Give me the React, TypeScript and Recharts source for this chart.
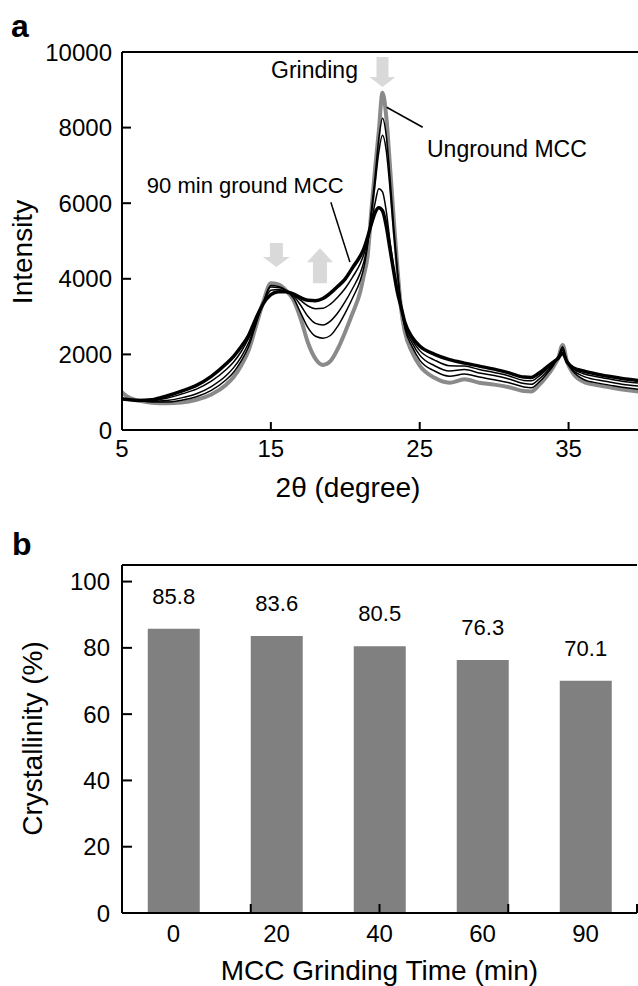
import React from 'react';
import {
  LineChart,
  Line,
  XAxis,
  YAxis,
  ReferenceLine,
  ReferenceDot,
  BarChart,
  Bar,
  LabelList,
  Label,
} from 'recharts';

const FONT = 'Liberation Sans, Arial, Helvetica, sans-serif';

// panel a: XRD patterns, 2theta in degrees
const twoTheta = [
  5, 5.5, 6, 7, 8, 9, 10, 11, 12,
  12.5, 13, 13.5, 14, 14.5, 15,
  15.5, 16, 16.5, 17, 17.5, 18,
  18.5, 19, 19.5, 20, 20.5, 21,
  21.25, 21.5, 21.75, 22, 22.25, 22.5,
  22.75, 23, 23.25, 23.5, 23.75, 24,
  24.5, 25, 26, 27, 28, 29,
  30, 31, 32, 32.5, 33, 33.5,
  34, 34.3, 34.6, 34.9, 35.3, 36,
  37, 38, 39, 40,
];

const unground = [
  1000, 850, 790, 720, 705, 725, 800, 940, 1200,
  1400, 1700, 2100, 2750, 3400, 3880,
  3850, 3700, 3450, 2950, 2300, 1880,
  1720, 1820, 2150, 2600, 3100, 3650,
  4100, 4600, 5800, 6900, 7900, 8920,
  8300, 7000, 5600, 4300, 3200, 2600,
  2050, 1700, 1380, 1250, 1340, 1250,
  1200, 1130, 1030, 1020, 1180, 1400,
  1680, 1900, 2250, 1800, 1500, 1280,
  1180, 1110, 1050, 1000,
];

const ground20 = [
  850, 810, 790, 740, 740, 790, 880, 1050, 1330,
  1530, 1820, 2200, 2800, 3380, 3820,
  3800, 3700, 3500, 3100, 2700, 2480,
  2430, 2500, 2750, 3100, 3500, 3950,
  4300, 4900, 5800, 6700, 7700, 8250,
  7800, 6700, 5400, 4250, 3300, 2700,
  2200, 1850, 1560, 1420, 1480, 1400,
  1330, 1250, 1140, 1120, 1260, 1470,
  1720, 1920, 2200, 1800, 1550, 1340,
  1240, 1170, 1110, 1060,
];

const ground40 = [
  840, 800, 785, 760, 780, 850, 960, 1150, 1440,
  1650, 1930, 2300, 2850, 3380, 3780,
  3770, 3700, 3560, 3300, 3000, 2820,
  2780, 2880, 3100, 3400, 3750, 4150,
  4450, 4950, 5700, 6500, 7350, 7800,
  7400, 6400, 5200, 4150, 3300, 2750,
  2300, 1980, 1700, 1560, 1600, 1510,
  1440, 1350, 1230, 1210, 1340, 1530,
  1760, 1930, 2150, 1800, 1580, 1420,
  1320, 1250, 1190, 1150,
];

const ground60 = [
  830, 800, 780, 780, 840, 950, 1080, 1290, 1600,
  1800, 2070, 2420, 2900, 3360, 3700,
  3720, 3680, 3580, 3430, 3280, 3210,
  3220, 3330, 3520, 3750, 4050, 4400,
  4650, 5000, 5500, 6000, 6380, 6300,
  5800, 5000, 4300, 3700, 3250, 2800,
  2380, 2100, 1850, 1700, 1690, 1600,
  1520, 1430, 1310, 1300, 1420, 1590,
  1780, 1920, 2100, 1800, 1620, 1490,
  1400, 1330, 1270, 1230,
];

const ground90 = [
  820, 800, 780, 800, 900, 1030, 1180, 1420, 1750,
  1950, 2200, 2500, 2950, 3350, 3580,
  3660, 3660, 3600, 3500, 3430, 3420,
  3480, 3620, 3800, 4000, 4300, 4600,
  4800, 5100, 5450, 5750, 5880, 5800,
  5400, 4800, 4200, 3650, 3250, 2850,
  2450, 2220, 2000, 1860, 1770, 1690,
  1610, 1510, 1400, 1390, 1500, 1650,
  1800, 1900, 2030, 1800, 1650, 1560,
  1470, 1400, 1340, 1300,
];

const thetaTicks = [5, 15, 25, 35];
const intensityTicks = [0, 2000, 4000, 6000, 8000, 10000];

// panel b: crystallinity
const grindTimes = ['0', '20', '40', '60', '90'];
const crystallinity = [85.8, 83.6, 80.5, 76.3, 70.1];
const crystTicks = [0, 20, 40, 60, 80, 100];
const categoryEdges = [1, 2, 3, 4];

const xrdData = twoTheta.map((t, i) => ({
  t,
  m0: unground[i],
  m20: ground20[i],
  m40: ground40[i],
  m60: ground60[i],
  m90: ground90[i],
}));

const barData = grindTimes.map((time, i) => ({ time, value: crystallinity[i] }));

const ARROW = '#d9d9d9';

const downArrow = (shaft: number, head: number, hw: number, sw: number) => (p: any) => {
  const { cx, cy } = p;
  const pts = [
    [cx - sw, cy - head - shaft],
    [cx + sw, cy - head - shaft],
    [cx + sw, cy - head],
    [cx + hw, cy - head],
    [cx, cy],
    [cx - hw, cy - head],
    [cx - sw, cy - head],
  ];
  return <polygon points={pts.map((q) => q.join(',')).join(' ')} fill={ARROW} />;
};

const upArrow = (shaft: number, head: number, hw: number, sw: number) => (p: any) => {
  const { cx, cy } = p;
  const pts = [
    [cx, cy],
    [cx + hw, cy + head],
    [cx + sw, cy + head],
    [cx + sw, cy + head + shaft],
    [cx - sw, cy + head + shaft],
    [cx - sw, cy + head],
    [cx - hw, cy + head],
  ];
  return <polygon points={pts.map((q) => q.join(',')).join(' ')} fill={ARROW} />;
};

const note = (text: string, anchor: 'start' | 'end', size = 23) => (p: any) => (
  <text x={p.cx} y={p.cy} textAnchor={anchor} fontSize={size} fill="#000" fontFamily={FONT}>
    {text}
  </text>
);

const title = (text: string, x: number, y: number, rotate = false) => () => (
  <text
    x={x}
    y={y}
    textAnchor="middle"
    fontSize={28}
    fill="#000"
    fontFamily={FONT}
    transform={rotate ? `rotate(-90 ${x} ${y})` : undefined}
  >
    {text}
  </text>
);

// ticks drawn by hand so that the tick marks point into the plot
const LeftTick = (gap: number, len: number) => (p: any) => (
  <g>
    <line x1={p.x + gap} x2={p.x + gap + len} y1={p.y} y2={p.y} stroke="#000" strokeWidth={2} />
    <text x={p.x} y={p.y} dy="0.36em" textAnchor="end" fontSize={24} fill="#000" fontFamily={FONT}>
      {p.payload.value}
    </text>
  </g>
);

const BottomTick = (gap: number, len: number) => (p: any) => (
  <g>
    <line x1={p.x} x2={p.x} y1={p.y - gap} y2={p.y - gap - len} stroke="#000" strokeWidth={2} />
    <text x={p.x} y={p.y} dy="0.71em" textAnchor="middle" fontSize={24} fill="#000" fontFamily={FONT}>
      {p.payload.value}
    </text>
  </g>
);

const EdgeTick = (p: any) => (
  <line x1={p.x} x2={p.x} y1={p.y} y2={p.y - 9} stroke="#000" strokeWidth={2} />
);

const axisStroke = { stroke: '#000', strokeWidth: 2 };
const tickFont = { fill: '#000', fontSize: 24, fontFamily: FONT };

function XrdPanel() {
  return (
    <LineChart width={643} height={510} data={xrdData} margin={{ top: 52, right: 0, bottom: 0, left: 0 }}>
      <XAxis
        dataKey="t"
        type="number"
        domain={[5, 40]}
        ticks={thetaTicks}
        interval={0}
        height={80}
        axisLine={axisStroke}
        tickLine={false}
        tickSize={0}
        tickMargin={10}
        tick={BottomTick(10, 8)}
        label={<Label content={title('2θ (degree)', 348, 497)} />}
      />
      <YAxis
        type="number"
        domain={[0, 10000]}
        ticks={intensityTicks}
        interval={0}
        width={122}
        axisLine={axisStroke}
        tickLine={false}
        tickSize={0}
        tickMargin={10}
        tick={LeftTick(10, 9)}
        label={<Label content={title('Intensity', 32, 252, true)} />}
      />
      <ReferenceLine y={10000} stroke="#000" strokeWidth={2} />
      <Line dataKey="m0" type="monotone" stroke="#8a8a8a" strokeWidth={4} dot={false} isAnimationActive={false} />
      <Line dataKey="m20" type="monotone" stroke="#000" strokeWidth={1.5} dot={false} isAnimationActive={false} />
      <Line dataKey="m40" type="monotone" stroke="#000" strokeWidth={1.5} dot={false} isAnimationActive={false} />
      <Line dataKey="m60" type="monotone" stroke="#000" strokeWidth={1.5} dot={false} isAnimationActive={false} />
      <Line dataKey="m90" type="monotone" stroke="#000" strokeWidth={3.5} dot={false} isAnimationActive={false} />

      <ReferenceDot x={22.5} y={9075} shape={downArrow(20, 10, 13, 6)} />
      <ReferenceDot x={15.37} y={4309} shape={downArrow(14, 10, 13.5, 6.5)} />
      <ReferenceDot x={18.3} y={4811} shape={upArrow(21, 14, 13, 7)} />

      <ReferenceDot x={20.85} y={9305} shape={note('Grinding', 'end')} />
      <ReferenceDot x={25.49} y={7216} shape={note('Unground MCC', 'start')} />
      <ReferenceDot x={6.67} y={6265} shape={note('90 min ground MCC', 'start', 22)} />

      <ReferenceLine segment={[{ x: 22.78, y: 8538 }, { x: 25.2, y: 8010 }]} stroke="#000" strokeWidth={1.5} />
      <ReferenceLine segment={[{ x: 19.03, y: 6027 }, { x: 20.31, y: 4441 }]} stroke="#000" strokeWidth={1.5} />
    </LineChart>
  );
}

function CrystallinityPanel() {
  return (
    <BarChart
      width={638}
      height={476}
      data={barData}
      margin={{ top: 55, right: 1, bottom: 0, left: 0 }}
      barCategoryGap="25%"
    >
      <XAxis
        dataKey="time"
        height={73}
        interval={0}
        axisLine={axisStroke}
        tickLine={false}
        tickSize={0}
        tickMargin={12}
        tick={tickFont}
        label={<Label content={title('MCC Grinding Time (min)', 379.5, 470)} />}
      />
      <XAxis
        xAxisId="edge"
        type="number"
        domain={[0, 5]}
        ticks={categoryEdges}
        interval={0}
        mirror
        axisLine={false}
        tickLine={false}
        tickSize={0}
        tickMargin={0}
        tick={EdgeTick}
      />
      <YAxis
        type="number"
        domain={[0, 105]}
        ticks={crystTicks}
        interval={0}
        width={122}
        axisLine={axisStroke}
        tickLine={false}
        tickSize={0}
        tickMargin={12}
        tick={LeftTick(12, 10)}
        label={<Label content={title('Crystallinity (%)', 42, 228.5, true)} />}
      />
      <ReferenceLine y={105} stroke="#000" strokeWidth={2} />
      <ReferenceLine xAxisId="edge" x={5} stroke="#000" strokeWidth={2} />
      <Bar dataKey="value" fill="#808080" isAnimationActive={false}>
        <LabelList dataKey="value" position="top" offset={25} fill="#000" fontSize={22} fontFamily={FONT} />
      </Bar>
    </BarChart>
  );
}

export default function App() {
  return (
    <div
      style={{
        position: 'absolute',
        left: 0,
        top: 0,
        width: 638,
        height: 986,
        overflow: 'hidden',
        background: '#fff',
        fontFamily: FONT,
      }}
    >
      <div style={{ position: 'absolute', left: 0, top: 0 }}>
        <XrdPanel />
      </div>
      <div style={{ position: 'absolute', left: 0, top: 510 }}>
        <CrystallinityPanel />
      </div>
      <div style={{ position: 'absolute', left: 11, top: 10, fontSize: 32, lineHeight: '32px', fontWeight: 'bold' }}>a</div>
      <div style={{ position: 'absolute', left: 12, top: 528, fontSize: 32, lineHeight: '32px', fontWeight: 'bold' }}>b</div>
    </div>
  );
}
